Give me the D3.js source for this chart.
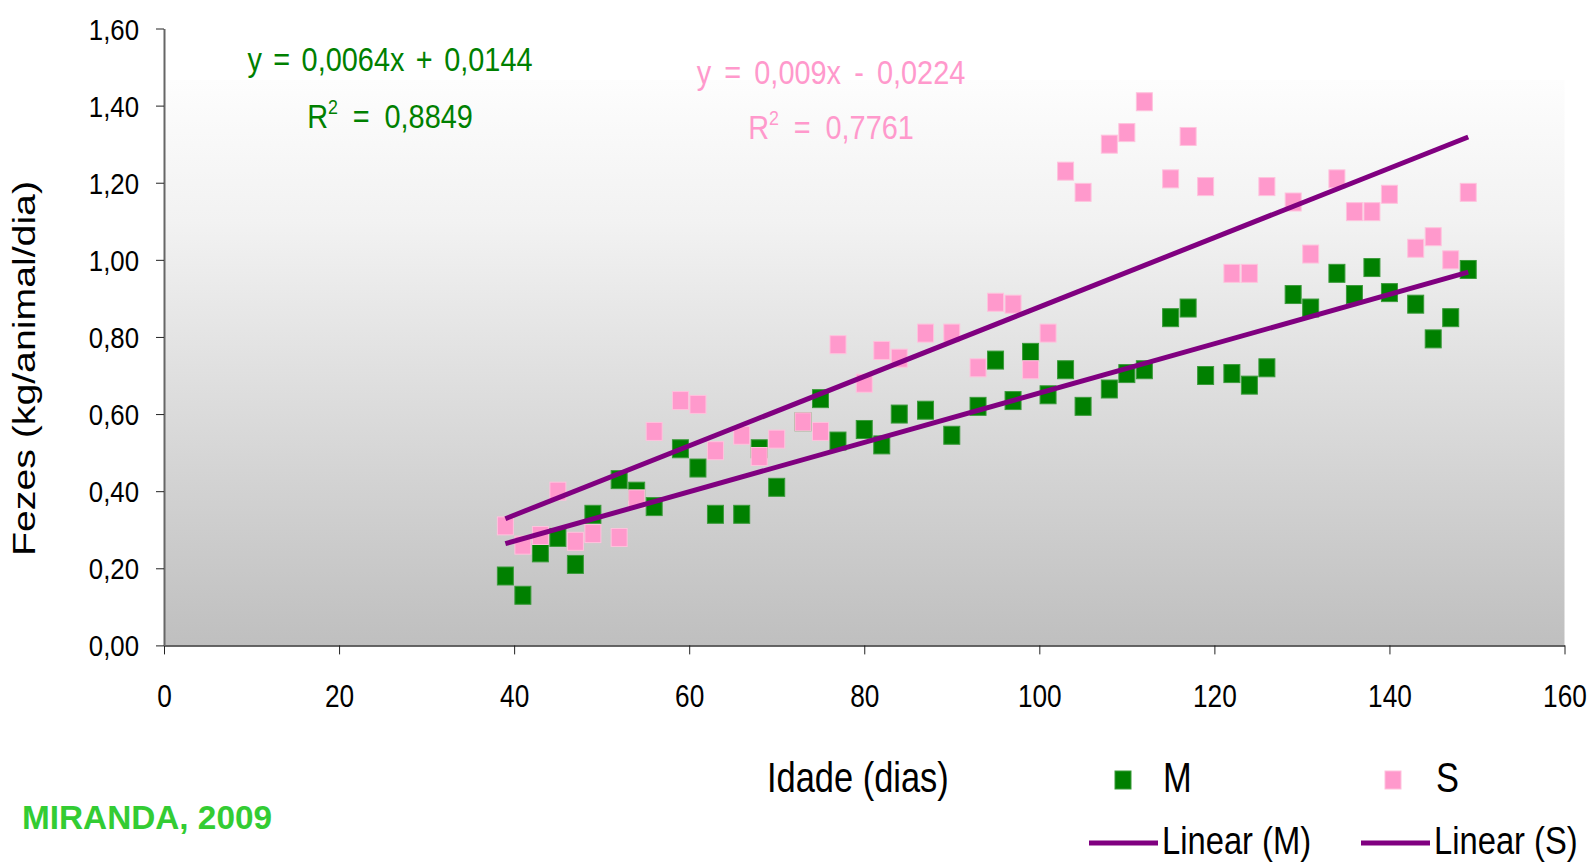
<!DOCTYPE html>
<html>
<head>
<meta charset="utf-8">
<script src="https://cdn.jsdelivr.net/npm/d3@7"></script>
<style>
  html, body { margin: 0; padding: 0; background: #fff; }
  svg { display: block; }
</style>
</head>
<body>
<div id="chart"></div>
<script>
// idade (dias) e fezes (kg/animal/dia) para os grupos M e S
const ages = [39, 41, 43, 45, 47, 49, 52, 54, 56, 59, 61, 63, 66, 68, 70, 73, 75, 77,
  80, 82, 84, 87, 90, 93, 95, 97, 99, 101, 103, 105, 108, 110, 112, 115, 117, 119,
  122, 124, 126, 129, 131, 134, 136, 138, 140, 143, 145, 147, 149];
const fezesM = [0.18, 0.13, 0.24, 0.28, 0.21, 0.34, 0.43, 0.40, 0.36, 0.51, 0.46, 0.34,
  0.34, 0.51, 0.41, 0.58, 0.64, 0.53, 0.56, 0.52, 0.60, 0.61, 0.545, 0.62,
  0.74, 0.635, 0.76, 0.65, 0.715, 0.62, 0.665, 0.705, 0.715, 0.85, 0.875, 0.70,
  0.705, 0.675, 0.72, 0.91, 0.875, 0.965, 0.91, 0.98, 0.915, 0.885, 0.795, 0.85, 0.975];
const fezesS = [0.31, 0.26, 0.285, 0.40, 0.27, 0.29, 0.28, 0.38, 0.555, 0.635, 0.625, 0.505,
  0.545, 0.49, 0.535, 0.58, 0.555, 0.78, 0.68, 0.765, 0.745, 0.81, 0.81, 0.72,
  0.89, 0.885, 0.715, 0.81, 1.23, 1.175, 1.30, 1.33, 1.41, 1.21, 1.32, 1.19,
  0.965, 0.965, 1.19, 1.15, 1.015, 1.21, 1.125, 1.125, 1.17, 1.03, 1.06, 1.00, 1.175];

// linhas de tendência (M, S)
const seriesNames = ['M', 'S'];
const trendSlopes = [0.0064, 0.009];
const trendIntercepts = [0.0144, -0.0224];
const trendEquations = ['y = 0,0064x + 0,0144', 'y = 0,009x - 0,0224'];
const trendR2 = ['0,8849', '0,7761'];

const xTicks = [0, 20, 40, 60, 80, 100, 120, 140, 160];
const yTicks = [0, 0.2, 0.4, 0.6, 0.8, 1.0, 1.2, 1.4, 1.6];

const width = 1596, height = 864;
const GREEN = '#008000', PINK = '#ff99cc', PURPLE = '#800080';
const FONT = "'Liberation Sans', Arial, sans-serif";

const x = d3.scaleLinear().domain([0, 160]).range([164, 1564.5]);
const y = d3.scaleLinear().domain([0, 1.6]).range([645.4, 28.5]);

const svg = d3.select('#chart').append('svg').attr('width', width).attr('height', height);

// texto "estreito": fonte normal comprimida na horizontal
function label(px, py, size, sx, str, color) {
  return svg.append('text')
    .attr('transform', `translate(${px},${py}) scale(${sx},1)`)
    .style('font-family', FONT).style('font-size', size + 'px')
    .attr('fill', color || '#000').text(str);
}

// fundo com degradê
const defs = svg.append('defs');
const grad = defs.append('linearGradient').attr('id', 'bg').attr('x1', 0).attr('y1', 0).attr('x2', 0).attr('y2', 1);
grad.append('stop').attr('offset', '0%').attr('stop-color', '#fdfdfd');
grad.append('stop').attr('offset', '25%').attr('stop-color', '#f2f2f2');
grad.append('stop').attr('offset', '100%').attr('stop-color', '#bfbfbf');

svg.append('rect')
  .attr('x', x(0)).attr('y', 80)
  .attr('width', x(160) - x(0)).attr('height', y(0) - 80)
  .attr('fill', 'url(#bg)');

// eixos
const xAxis = svg.append('g').attr('transform', `translate(0,${y(0)})`)
  .call(d3.axisBottom(x).tickValues(xTicks).tickSize(9).tickSizeOuter(0).tickFormat(d3.format('d')));
xAxis.select('.domain').attr('stroke', '#333').attr('stroke-width', 1.5);
xAxis.selectAll('.tick line').attr('stroke', '#222');
xAxis.selectAll('.tick text')
  .attr('x', 0).attr('y', 0).attr('dy', 0)
  .attr('transform', 'translate(0,62) scale(0.82,1)')
  .attr('text-anchor', 'middle')
  .style('font-family', FONT).style('font-size', '32px').attr('fill', '#000');

const fmtY = d => d3.format('.2f')(d).replace('.', ',');
const yAxis = svg.append('g').attr('transform', `translate(${x(0)},0)`)
  .call(d3.axisLeft(y).tickValues(yTicks).tickSize(8).tickSizeOuter(0).tickFormat(fmtY));
yAxis.select('.domain').attr('stroke', '#666').attr('stroke-width', 2);
yAxis.selectAll('.tick line').attr('stroke', '#222');
yAxis.selectAll('.tick text')
  .attr('x', 0).attr('y', 0).attr('dy', 0)
  .attr('transform', 'translate(-25,10.5) scale(0.86,1)')
  .attr('text-anchor', 'end')
  .style('font-family', FONT).style('font-size', '30px').attr('fill', '#000');

// título do eixo Y
svg.append('text')
  .attr('transform', 'translate(35,556) rotate(-90)')
  .attr('textLength', 375).attr('lengthAdjust', 'spacingAndGlyphs')
  .style('font-family', FONT).style('font-size', '31px').attr('fill', '#000')
  .text('Fezes  (kg/animal/dia)');

// pontos
const mW = 16, mH = 18;
function drawPoints(values, fill, stroke) {
  svg.append('g').selectAll('rect').data(values).join('rect')
    .attr('x', (d, i) => x(ages[i]) - mW / 2)
    .attr('y', d => y(d) - mH / 2)
    .attr('width', mW).attr('height', mH)
    .attr('fill', fill).attr('stroke', stroke).attr('stroke-width', 1);
}
drawPoints(fezesM, GREEN, '#3a9a3a');
drawPoints(fezesS, PINK, '#ffc2dd');

// linhas de tendência
const xr = d3.extent(ages);
trendSlopes.forEach((m, i) => {
  const b = trendIntercepts[i];
  svg.append('line')
    .attr('x1', x(xr[0])).attr('y1', y(m * xr[0] + b))
    .attr('x2', x(xr[1])).attr('y2', y(m * xr[1] + b))
    .attr('stroke', PURPLE).attr('stroke-width', 5);
});

// equações
const eqPos = [{ cx: 390, y1: 71, y2: 128, ws: 4, color: GREEN }, { cx: 831, y1: 84, y2: 139, ws: 6, color: PINK }];
eqPos.forEach((p, i) => {
  label(p.cx, p.y1, 34, 0.85, trendEquations[i], p.color)
    .attr('text-anchor', 'middle').style('word-spacing', p.ws + 'px');
  const t = label(p.cx, p.y2, 34, 0.85, null, p.color)
    .attr('text-anchor', 'middle').style('word-spacing', '8px');
  t.append('tspan').text('R');
  t.append('tspan').attr('dy', -14).style('font-size', '21px').text('2');
  t.append('tspan').attr('dy', 14).text(' = ' + trendR2[i]);
});

// legenda
label(767, 792, 42, 0.82, 'Idade (dias)');

const legMarkers = [{ x: 1123, tx: 1163, fill: GREEN, stroke: '#3a9a3a' }, { x: 1393, tx: 1436, fill: PINK, stroke: '#ffc2dd' }];
legMarkers.forEach((l, i) => {
  svg.append('rect').attr('x', l.x - mW / 2).attr('y', 780 - mH / 2).attr('width', mW).attr('height', mH)
    .attr('fill', l.fill).attr('stroke', l.stroke);
  label(l.tx, 792, 42, 0.82, seriesNames[i]);
});

const legLines = [{ x1: 1089, x2: 1158, tx: 1162 }, { x1: 1361, x2: 1430, tx: 1434 }];
legLines.forEach((l, i) => {
  svg.append('line').attr('x1', l.x1).attr('x2', l.x2).attr('y1', 843).attr('y2', 843)
    .attr('stroke', PURPLE).attr('stroke-width', 5);
  label(l.tx, 854, 39, 0.84, 'Linear (' + seriesNames[i] + ')');
});

// fonte
svg.append('text').attr('x', 22).attr('y', 829)
  .attr('textLength', 250).attr('lengthAdjust', 'spacingAndGlyphs')
  .style('font-family', FONT).style('font-weight', 'bold').style('font-size', '34px')
  .attr('fill', '#33cc33').text('MIRANDA, 2009');
</script>
</body>
</html>
